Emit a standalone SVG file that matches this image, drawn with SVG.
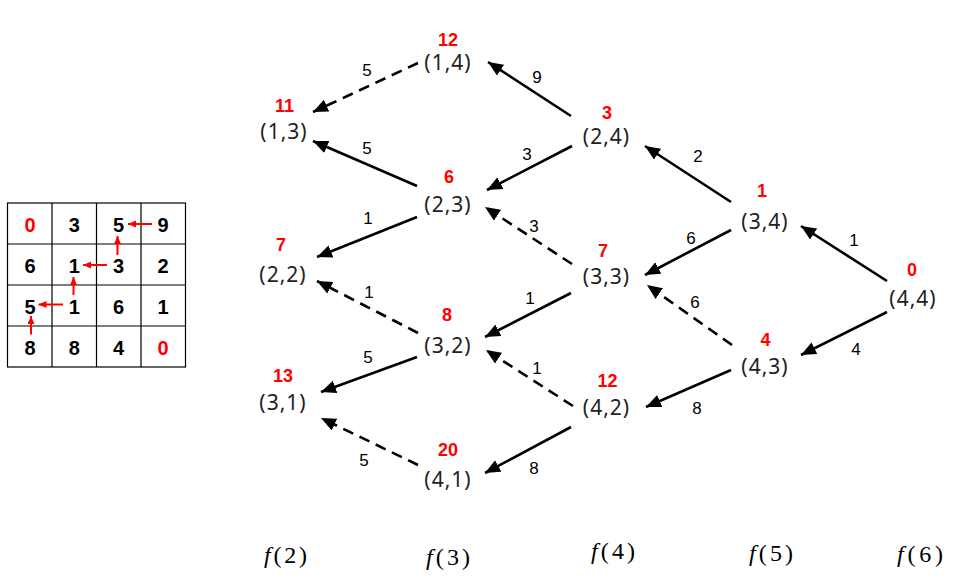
<svg xmlns="http://www.w3.org/2000/svg" width="970" height="578" viewBox="0 0 970 578">
<style>
.cell{fill:#fff;stroke:#000;stroke-width:1.2}
.g{font-family:"Liberation Sans",Arial,sans-serif;font-size:20px;font-weight:bold;text-anchor:middle;fill:#000}
.gr{fill:#ff0000}
.ra{stroke:#ff0000;stroke-width:2;fill:none;marker-end:url(#rah)}
.lbl{font-family:"Noto Sans","DejaVu Sans",sans-serif;font-size:21px;text-anchor:middle;fill:#222;letter-spacing:1px}
.val{font-family:"Liberation Sans",Arial,sans-serif;font-size:18px;font-weight:bold;text-anchor:middle;fill:#ff0000}
.e{stroke:#000;stroke-width:2.6;fill:none;marker-end:url(#ah)}
.d{stroke-dasharray:11 7}
.w{font-family:"Liberation Sans",Arial,sans-serif;font-size:17px;text-anchor:middle;fill:#000}
.f{font-family:"Liberation Serif","Times New Roman",serif;font-size:24px;fill:#000}
</style>
<defs>
<marker id="ah" markerUnits="userSpaceOnUse" markerWidth="16" markerHeight="14" refX="15" refY="6.5" orient="auto">
<path d="M0,0 L15,6.5 L0,13 z" fill="#000"/>
</marker>
<marker id="rah" markerUnits="userSpaceOnUse" markerWidth="9" markerHeight="8" refX="8" refY="3.5" orient="auto">
<path d="M0,0 L8,3.5 L0,7 z" fill="#ff0000"/>
</marker>
</defs>
<rect width="970" height="578" fill="#fff"/>

<g id="grid">
<rect class="cell" x="7.5" y="203" width="178" height="164"/>
<path d="M52,203V367M96.5,203V367M141,203V367M7.5,244H185.5M7.5,285H185.5M7.5,326H185.5" stroke="#000" stroke-width="1.2"/>
<text class="g gr" x="30" y="231.5">0</text>
<text class="g" x="74.3" y="231.5">3</text>
<text class="g" x="118.5" y="231.5">5</text>
<text class="g" x="163" y="231.5">9</text>
<text class="g" x="30" y="272.5">6</text>
<text class="g" x="74.3" y="272.5">1</text>
<text class="g" x="118.5" y="272.5">3</text>
<text class="g" x="163" y="272.5">2</text>
<text class="g" x="30" y="313.5">5</text>
<text class="g" x="74.3" y="313.5">1</text>
<text class="g" x="118.5" y="313.5">6</text>
<text class="g" x="163" y="313.5">1</text>
<text class="g" x="30" y="354.5">8</text>
<text class="g" x="74.3" y="354.5">8</text>
<text class="g" x="118.5" y="354.5">4</text>
<text class="g gr" x="163" y="354.5">0</text>
<line class="ra" x1="152" y1="224" x2="128" y2="224"/>
<line class="ra" x1="117.5" y1="255" x2="117.5" y2="236"/>
<line class="ra" x1="107" y1="265" x2="83" y2="265"/>
<line class="ra" x1="73.5" y1="295" x2="73.5" y2="277"/>
<line class="ra" x1="63" y1="304.5" x2="38.5" y2="304.5"/>
<line class="ra" x1="31" y1="334.5" x2="31" y2="316"/>
</g>

<g id="connectors">
<line class="e d" x1="418" y1="63" x2="313" y2="112"/>
<line class="e" x1="417" y1="186" x2="313" y2="141"/>
<line class="e" x1="571" y1="116" x2="488" y2="62"/>
<line class="e" x1="572" y1="146" x2="487" y2="190"/>
<line class="e" x1="417" y1="217" x2="317" y2="257"/>
<line class="e d" x1="572" y1="264" x2="485" y2="207"/>
<line class="e" x1="731" y1="202" x2="645" y2="146"/>
<line class="e" x1="731" y1="230" x2="645" y2="275"/>
<line class="e d" x1="418" y1="333" x2="317" y2="281"/>
<line class="e" x1="571" y1="293" x2="485" y2="337"/>
<line class="e d" x1="732" y1="345" x2="647" y2="285"/>
<line class="e" x1="887" y1="281" x2="801" y2="226"/>
<line class="e" x1="887" y1="312" x2="801" y2="355"/>
<line class="e" x1="417" y1="357" x2="321" y2="392"/>
<line class="e d" x1="573" y1="406" x2="486" y2="350"/>
<line class="e" x1="731" y1="370" x2="646" y2="407"/>
<line class="e d" x1="418" y1="465" x2="321" y2="418"/>
<line class="e" x1="571" y1="427" x2="485" y2="473"/>
<text class="w" x="367" y="76">5</text>
<text class="w" x="367" y="154">5</text>
<text class="w" x="537" y="83">9</text>
<text class="w" x="527" y="160">3</text>
<text class="w" x="368" y="224">1</text>
<text class="w" x="534" y="232">3</text>
<text class="w" x="698" y="162">2</text>
<text class="w" x="691" y="244">6</text>
<text class="w" x="369" y="298">1</text>
<text class="w" x="530" y="304">1</text>
<text class="w" x="695" y="308">6</text>
<text class="w" x="854" y="246">1</text>
<text class="w" x="856" y="355">4</text>
<text class="w" x="368" y="363">5</text>
<text class="w" x="537" y="374">1</text>
<text class="w" x="697" y="414">8</text>
<text class="w" x="364" y="466">5</text>
<text class="w" x="534" y="474">8</text>
</g>

<g id="n14"><text class="val" x="448" y="46">12</text><text class="lbl" x="448" y="70">(1,4)</text></g>
<g id="n13"><text class="val" x="284.5" y="112">11</text><text class="lbl" x="284" y="139">(1,3)</text></g>
<g id="n24"><text class="val" x="607" y="119">3</text><text class="lbl" x="606.5" y="144">(2,4)</text></g>
<g id="n23"><text class="val" x="449" y="183">6</text><text class="lbl" x="448" y="211.5">(2,3)</text></g>
<g id="n34"><text class="val" x="762" y="197">1</text><text class="lbl" x="765" y="229">(3,4)</text></g>
<g id="n22"><text class="val" x="281" y="251">7</text><text class="lbl" x="283" y="281.5">(2,2)</text></g>
<g id="n33"><text class="val" x="603" y="256.5">7</text><text class="lbl" x="606.5" y="284">(3,3)</text></g>
<g id="n44"><text class="val" x="912" y="276">0</text><text class="lbl" x="913" y="305.5">(4,4)</text></g>
<g id="n32"><text class="val" x="447" y="320.5">8</text><text class="lbl" x="448" y="353">(3,2)</text></g>
<g id="n43"><text class="val" x="765.5" y="345.5">4</text><text class="lbl" x="765" y="374">(4,3)</text></g>
<g id="n31"><text class="val" x="283" y="381.5">13</text><text class="lbl" x="283" y="410">(3,1)</text></g>
<g id="n42"><text class="val" x="607.5" y="387">12</text><text class="lbl" x="606.5" y="415">(4,2)</text></g>
<g id="n41"><text class="val" x="448" y="455.5">20</text><text class="lbl" x="448" y="486.5">(4,1)</text></g>

<g id="stages">
<text class="f" x="264" y="563" textLength="43" lengthAdjust="spacing"><tspan font-style="italic">f</tspan>(2)</text>
<text class="f" x="426" y="565" textLength="44" lengthAdjust="spacing"><tspan font-style="italic">f</tspan>(3)</text>
<text class="f" x="591" y="559" textLength="44" lengthAdjust="spacing"><tspan font-style="italic">f</tspan>(4)</text>
<text class="f" x="749" y="561" textLength="44" lengthAdjust="spacing"><tspan font-style="italic">f</tspan>(5)</text>
<text class="f" x="897" y="562" textLength="46" lengthAdjust="spacing"><tspan font-style="italic">f</tspan>(6)</text>
</g>
</svg>
